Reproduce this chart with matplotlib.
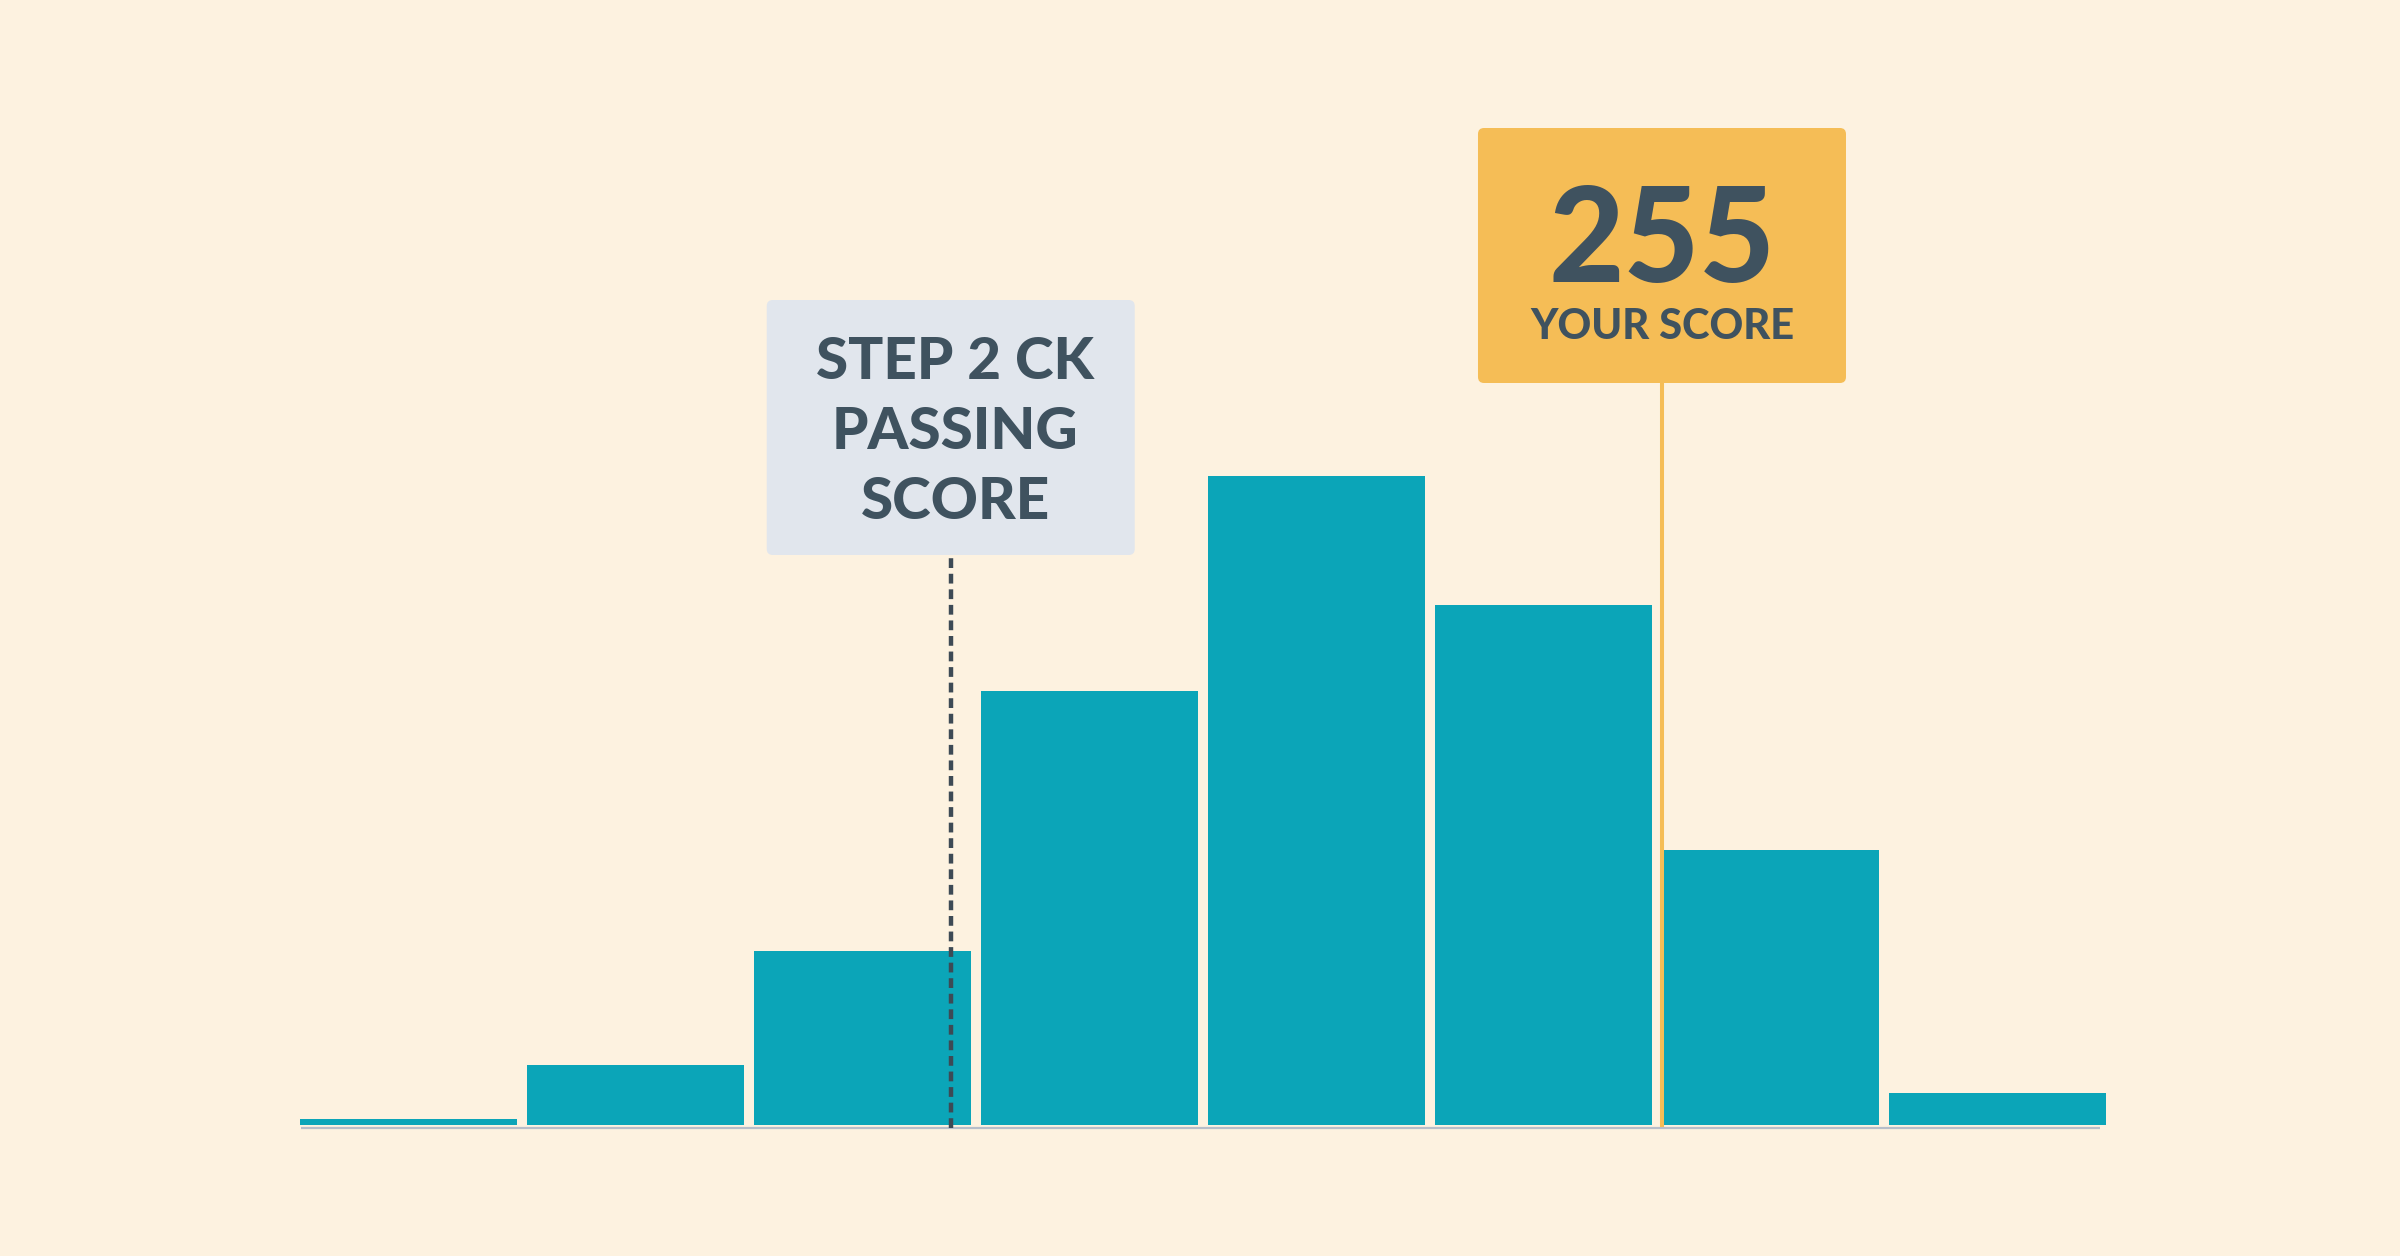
import matplotlib.pyplot as plt
from matplotlib.patches import FancyBboxPatch

# score distribution (share of examinees per 15-point bin, %)
bin_starts = [165, 180, 195, 210, 225, 240, 255, 270]
share = [0.3, 2.8, 8.1, 20.2, 30.2, 24.2, 12.8, 1.5]
bin_width = 15

passing_score = 208
your_score = 255
passing_label = ["STEP 2 CK", "PASSING", "SCORE"]
score_label = "YOUR SCORE"

BG = "#fdf2e0"
TEAL = "#0ba5b8"
GOLD = "#f5bd56"
GREY_BOX = "#e1e6ed"
INK = "#3f525f"

W, H, DPI = 24, 12.56, 100
fig = plt.figure(figsize=(W, H), dpi=DPI)
fig.patch.set_facecolor(BG)

# axes: bars span x 300..2106 px, baseline at 1125 px from top
ymax = 48
ax = fig.add_axes([300 / 2400, (1256 - 1125) / 1256, 1806 / 2400, ymax * 21.48 / 1256])
ax.set_facecolor(BG)
ax.set_xlim(bin_starts[0], bin_starts[-1] + bin_width * 0.956)
ax.set_ylim(0, ymax)
ax.axis("off")

px_x = 1806 / (bin_width * 0.956 + bin_starts[-1] - bin_starts[0])  # px per score unit
px_y = 21.48  # px per percent


def dy(px):
    return px / px_y


ax.bar(bin_starts, share, width=bin_width * 0.956, align="edge",
       color=TEAL, edgecolor="none", zorder=2)

# baseline
ax.plot([bin_starts[0] + 0.07, bin_starts[-1] + bin_width * 0.93], [-dy(3), -dy(3)],
        color="#b7bec9", lw=1.6, clip_on=False, zorder=1, solid_capstyle="butt")

# passing score marker
box_w = 368 / px_x
box_h = dy(255)
pass_box_y = dy(1125 - 555)
ax.plot([passing_score, passing_score], [-dy(3), pass_box_y], color="#3d4a55",
        lw=3.2, ls=(0, (2.2, 1.3)), clip_on=False, zorder=3)
ax.add_patch(FancyBboxPatch((passing_score - box_w / 2, pass_box_y), box_w, box_h,
                            boxstyle="round,pad=0,rounding_size=0.4",
                            mutation_aspect=px_x / px_y,
                            facecolor=GREY_BOX, edgecolor="none", zorder=4, clip_on=False))
for i, line in enumerate(passing_label):
    ax.text(passing_score + 0.3, dy(1125 - 379 - 70 * i), line, ha="center", va="baseline",
            fontsize=42, fontfamily="Lato", fontweight="black", color=INK, zorder=5)

# your score marker
score_box_y = dy(1125 - 383)
ax.plot([your_score, your_score], [0, score_box_y], color=GOLD, lw=2.9,
        clip_on=False, zorder=3)
ax.add_patch(FancyBboxPatch((your_score - box_w / 2, score_box_y), box_w, box_h,
                            boxstyle="round,pad=0,rounding_size=0.4",
                            mutation_aspect=px_x / px_y,
                            facecolor=GOLD, edgecolor="none", zorder=4, clip_on=False))
ax.text(your_score, dy(1125 - 282), str(your_score), ha="center", va="baseline",
        fontsize=94, fontfamily="Lato", fontweight="black", color=INK, zorder=5)
ax.text(your_score, dy(1125 - 339), score_label, ha="center", va="baseline",
        fontsize=30, fontfamily="Lato", fontweight="black", color=INK, zorder=5)

fig.savefig("out.png", dpi=DPI, facecolor=BG)
